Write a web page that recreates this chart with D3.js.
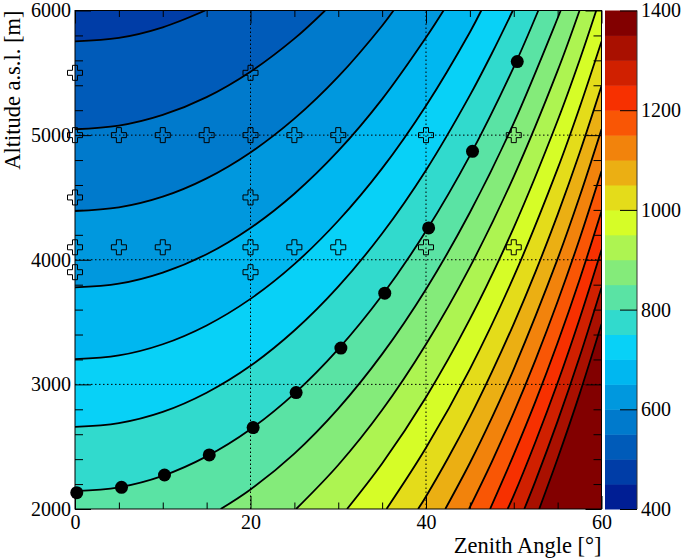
<!DOCTYPE html>
<html>
<head>
<meta charset="utf-8">
<script src="https://cdn.jsdelivr.net/npm/d3@7"></script>
<style>
  body { margin: 0; background: #fff; }
</style>
</head>
<body>
<svg width="685" height="559"></svg>
<script>
const svg = d3.select('svg');

// contour levels (slant depth) and the iso-lines
const levels = [500, 550, 600, 650, 700, 750, 800, 850, 900, 950,
                1000, 1050, 1100, 1150, 1200, 1250, 1300, 1350];

const isoZenith = [
  [0, 5, 10, 14.85],
  [0, 5, 10, 15, 20, 25, 28.5],
  [0, 5, 10, 15, 20, 25, 30, 35, 36.3],
  [0, 5, 10, 15, 20, 25, 30, 35, 40, 42],
  [0, 5, 10, 15, 20, 25, 30, 35, 40, 45, 46.3],
  [0, 5, 10, 15, 20, 25, 30, 35, 40, 45, 47.5, 49.9],
  [0, 5, 10, 15, 20, 25, 30, 35, 40, 45, 50, 52.8],
  [16.6, 20, 25, 30, 35, 40, 45, 50, 55, 55.35],
  [25.2, 30, 35, 40, 45, 50, 55, 57.5],
  [31.0, 35, 40, 45, 50, 55, 57.5, 59.4],
  [35.5, 40, 45, 50, 55, 57.5, 60],
  [39.1, 40, 42.5, 45, 47.5, 50, 52.5, 55, 57.5, 60],
  [42.2, 45, 47.5, 50, 55, 57.5, 60],
  [44.9, 47.5, 50, 52.5, 55, 57.5, 60],
  [47.3, 50, 52.5, 55, 57.5, 60],
  [49.3, 50, 52.5, 55, 57.5, 60],
  [51.2, 52.5, 55, 57.5, 60],
  [52.9, 55, 57.5, 60]
];

const isoAltitude = [
  [5752, 5780, 5865, 6000],
  [5047, 5076, 5162, 5305, 5509, 5774, 6000],
  [4391, 4420, 4506, 4653, 4861, 5132, 5469, 5878, 6000],
  [3778, 3808, 3897, 4044, 4255, 4530, 4873, 5289, 5783, 6000],
  [3202, 3232, 3322, 3473, 3686, 3965, 4313, 4733, 5236, 5826, 6000],
  [2659, 2689, 2779, 2933, 3149, 3432, 3784, 4211, 4719, 5319, 5655, 6000],
  [2144, 2174, 2266, 2422, 2640, 2926, 3283, 3715, 4230, 4836, 5546, 6000],
  [2000, 2157, 2445, 2806, 3243, 3764, 4379, 5096, 5938, 6000],
  [2000, 2353, 2794, 3322, 3941, 4667, 5517, 6000],
  [2000, 2365, 2897, 3523, 4258, 5117, 5601, 6000],
  [2000, 2491, 3123, 3864, 4731, 5221, 5752],
  [2000, 2101, 2407, 2737, 3098, 3486, 3907, 4362, 4856, 5393],
  [2000, 2369, 2731, 3123, 4007, 4505, 5047],
  [2000, 2379, 2773, 3201, 3665, 4167, 4712],
  [2000, 2436, 2867, 3334, 3840, 4391],
  [2000, 2109, 2544, 3013, 3525, 4080],
  [2000, 2230, 2705, 3219, 3778],
  [2000, 2405, 2922, 3485]
];

// black dots along the 800 line
const scanZenith   = [0.2, 5.3, 10.2, 15.3, 20.3, 25.2, 30.3, 35.3, 40.3, 45.3, 50.4];
const scanAltitude = [2131, 2174, 2273, 2434, 2653, 2934, 3291, 3732, 4255, 4870, 5590];

// open crosses
const siteZenith   = [0, 20,
                      0, 5, 10, 15, 20, 25, 30, 40, 50,
                      0, 20,
                      0, 5, 10, 20, 25, 30, 40, 50,
                      0, 20];
const siteAltitude = [5500, 5500,
                      5000, 5000, 5000, 5000, 5000, 5000, 5000, 5000, 5000,
                      4500, 4500,
                      4100, 4100, 4100, 4100, 4100, 4100, 4100, 4100,
                      3900, 3900];

const zMin = 400, zMax = 1400, nBands = 20;
const zTicks = [400, 600, 800, 1000, 1200, 1400];

// palette gradient (same as the root one)
const palStops  = [0, 0.34, 0.61, 0.84, 1];
const palColors = ['rgb(0,0,130)', 'rgb(0,207,255)', 'rgb(222,255,31)', 'rgb(255,51,0)', 'rgb(130,0,0)'];
const grad = d3.scaleLinear(palStops, palColors).interpolate(d3.interpolateRgb);
const bandColor = i => grad((i + 1) / nBands);
const bandOf = v => Math.floor((v - zMin) / ((zMax - zMin) / nBands));

const x = d3.scaleLinear([0, 60], [75, 601.5]);
const y = d3.scaleLinear([2000, 6000], [509, 10.5]);
const zs = d3.scaleLinear([zMin, zMax], [509, 10.5]);

const FONT = '"Liberation Serif", "Times New Roman", serif';

svg.append('defs').append('clipPath').attr('id', 'plotclip')
  .append('rect')
  .attr('x', x(0)).attr('y', y(6000))
  .attr('width', x(60) - x(0)).attr('height', y(2000) - y(6000));

const plot = svg.append('g').attr('clip-path', 'url(#plotclip)');

// background = band under the first level
plot.append('rect')
  .attr('x', x(0)).attr('y', y(6000))
  .attr('width', x(60) - x(0)).attr('height', y(2000) - y(6000))
  .attr('fill', bandColor(bandOf(levels[0]) - 1));

const curve = d3.line()
  .x(d => x(d[0])).y(d => y(d[1]))
  .curve(d3.curveCatmullRom.alpha(0.5));

const lines = levels.map((L, k) => isoZenith[k].map((t, j) => [t, isoAltitude[k][j]]));

// filled bands, painted from low to high
lines.forEach((pts, k) => {
  const first = pts[0], last = pts[pts.length - 1];
  const corners = [];
  if (last[1] >= 6000) corners.push([60, 6000]);
  corners.push([60, 2000]);
  if (first[0] <= 0) corners.push([0, 2000]);
  const d = curve(pts) + corners.map(c => `L${x(c[0])},${y(c[1])}`).join('') + 'Z';
  plot.append('path').attr('d', d).attr('fill', bandColor(bandOf(levels[k])));
});

// contour lines
plot.selectAll('path.iso')
  .data(lines)
  .enter().append('path')
  .attr('class', 'iso')
  .attr('d', curve)
  .attr('fill', 'none')
  .attr('stroke', '#000')
  .attr('stroke-width', 1.8);

// grid
const grid = svg.append('g')
  .attr('stroke', '#000').attr('stroke-width', 1)
  .attr('stroke-dasharray', '1.5,2.5');
[20, 40].forEach(v => grid.append('line')
  .attr('x1', x(v)).attr('x2', x(v)).attr('y1', y(2000)).attr('y2', y(6000)));
[3000, 4000, 5000].forEach(v => grid.append('line')
  .attr('x1', x(0)).attr('x2', x(60)).attr('y1', y(v)).attr('y2', y(v)));

// axes with inward ticks
const xMinor = d3.range(0, 61, 5).filter(v => v % 20);
const yMinor = d3.range(2000, 6001, 200).filter(v => v % 1000);
const noLab = () => '';

function tickAxis(gen, scale, vals, len, tx, ty) {
  const g = svg.append('g').attr('transform', `translate(${tx},${ty})`)
    .call(gen(scale).tickValues(vals).tickSize(-len).tickFormat(noLab));
  g.select('.domain').remove();
  g.selectAll('line').attr('stroke', '#000');
  return g;
}
tickAxis(d3.axisBottom, x, [0, 20, 40, 60], 13, 0, y(2000));
tickAxis(d3.axisBottom, x, xMinor, 6.5, 0, y(2000));
tickAxis(d3.axisTop, x, [0, 20, 40, 60], 13, 0, y(6000));
tickAxis(d3.axisTop, x, xMinor, 6.5, 0, y(6000));
tickAxis(d3.axisLeft, y, [2000, 3000, 4000, 5000, 6000], 16, x(0), 0);
tickAxis(d3.axisLeft, y, yMinor, 8, x(0), 0);
tickAxis(d3.axisRight, y, [2000, 3000, 4000, 5000, 6000], 16, x(60), 0);
tickAxis(d3.axisRight, y, yMinor, 8, x(60), 0);

// tick labels
const xl = svg.append('g')
  .call(d3.axisBottom(x).tickValues([0, 20, 40, 60]).tickSize(0).tickPadding(6).tickFormat(d3.format('d')))
  .attr('transform', `translate(0,${y(2000)})`);
xl.select('.domain').remove();
xl.selectAll('text').attr('font-family', FONT).attr('font-size', 20).attr('fill', '#000');

const yl = svg.append('g')
  .call(d3.axisLeft(y).tickValues([2000, 3000, 4000, 5000, 6000]).tickSize(0).tickPadding(4).tickFormat(d3.format('d')))
  .attr('transform', `translate(${x(0)},0)`);
yl.select('.domain').remove();
yl.selectAll('text').attr('font-family', FONT).attr('font-size', 20).attr('fill', '#000');

// frame
svg.append('rect')
  .attr('x', x(0)).attr('y', y(6000))
  .attr('width', x(60) - x(0)).attr('height', y(2000) - y(6000))
  .attr('fill', 'none').attr('stroke', '#000').attr('stroke-width', 1);

// open crosses
const sites = siteZenith.map((t, i) => [t, siteAltitude[i]]);
svg.append('g').selectAll('path')
  .data(sites)
  .enter().append('path')
  .attr('transform', d => `translate(${x(d[0])},${y(d[1])})`)
  .attr('d', d3.symbol(d3.symbolCross, 125))
  .attr('fill', 'none')
  .attr('stroke', '#000')
  .attr('stroke-width', 1);

// dots
const scan = scanZenith.map((t, i) => [t, scanAltitude[i]]);
svg.append('g').selectAll('circle')
  .data(scan)
  .enter().append('circle')
  .attr('cx', d => x(d[0])).attr('cy', d => y(d[1]))
  .attr('r', 6.5)
  .attr('fill', '#000');

// colour bar
const cbX = 605, cbW = 32;
const step = (zMax - zMin) / nBands;
svg.append('g').selectAll('rect')
  .data(d3.range(nBands))
  .enter().append('rect')
  .attr('x', cbX)
  .attr('y', i => zs(zMin + (i + 1) * step))
  .attr('width', cbW)
  .attr('height', i => zs(zMin + i * step) - zs(zMin + (i + 1) * step) + 0.5)
  .attr('fill', i => bandColor(i));

svg.append('line')
  .attr('x1', cbX + cbW).attr('x2', cbX + cbW)
  .attr('y1', zs(zMax)).attr('y2', zs(zMin))
  .attr('stroke', '#333').attr('stroke-width', 1);

const za = svg.append('g')
  .attr('transform', `translate(${cbX + cbW},0)`)
  .call(d3.axisRight(zs).tickValues(zTicks).tickSize(-17).tickPadding(4).tickFormat(d3.format('d')));
za.select('.domain').remove();
za.selectAll('line').attr('stroke', '#000');
za.selectAll('text').attr('font-family', FONT).attr('font-size', 20).attr('fill', '#000');

// titles
svg.append('text')
  .attr('transform', `translate(19.5,${y(6000)}) rotate(-90)`)
  .attr('text-anchor', 'end')
  .attr('font-family', FONT).attr('font-size', 22.5)
  .text('Altitude a.s.l. [m]');

svg.append('text')
  .attr('x', x(60)).attr('y', 553)
  .attr('text-anchor', 'end')
  .attr('font-family', FONT).attr('font-size', 22.5)
  .text('Zenith Angle [°]');
</script>
</body>
</html>
